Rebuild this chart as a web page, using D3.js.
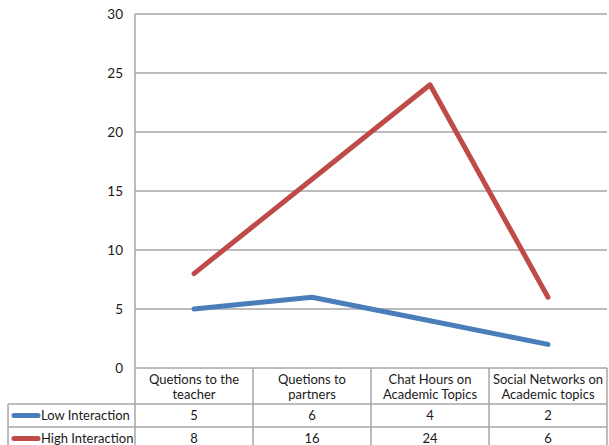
<!DOCTYPE html>
<html>
<head>
<meta charset="utf-8">
<script src="https://cdn.jsdelivr.net/npm/d3@7"></script>
<style>
  html, body { margin: 0; padding: 0; background: #fff; }
  svg { display: block; }
  text { font-family: Lato, "Open Sans", sans-serif; fill: #1a1a1a; }
</style>
</head>
<body>
<svg id="chart" width="609" height="445"></svg>
<script>
// Data
const categories = [
  ["Quetions to the", "teacher"],
  ["Quetions to", "partners"],
  ["Chat Hours on", "Academic Topics"],
  ["Social Networks on", "Academic topics"]
];
const seriesNames = ["Low Interaction", "High Interaction"];
const lowValues = [5, 6, 4, 2];
const highValues = [8, 16, 24, 6];
const yTicks = [0, 5, 10, 15, 20, 25, 30];
const seriesColors = ["#4a7ebb", "#be4b48"];

const svg = d3.select("#chart");
const plot = { left: 135, right: 607, top: 14, bottom: 368 };
const rowH = 23, headH = 36, tableLeft = 8;
const gridColor = "#a6a6a6";

const keys = categories.map((c, i) => i);
const x = d3.scaleBand().domain(keys).range([plot.left, plot.right]).padding(0);
const y = d3.scaleLinear().domain([0, 30]).range([plot.bottom, plot.top]);
const cx = i => x(i) + x.bandwidth() / 2;

// Horizontal gridlines
svg.append("g").selectAll("line").data(yTicks).join("line")
  .attr("x1", plot.left).attr("x2", plot.right)
  .attr("y1", d => y(d)).attr("y2", d => y(d))
  .attr("stroke", gridColor).attr("stroke-width", 1.5);

// Y axis labels
svg.append("g").selectAll("text").data(yTicks).join("text")
  .attr("x", 123).attr("y", d => y(d))
  .attr("dy", "0.35em").attr("text-anchor", "end")
  .style("font-size", "13.5px").text(d => d);

// Vertical axis line
svg.append("line")
  .attr("x1", plot.left).attr("x2", plot.left)
  .attr("y1", plot.top).attr("y2", plot.bottom + headH + rowH * 2)
  .attr("stroke", gridColor).attr("stroke-width", 1.5);

// Data table below the axis
const tableTop = plot.bottom;
const rowTops = [tableTop + headH, tableTop + headH + rowH, tableTop + headH + rowH * 2];
const tg = svg.append("g");
// column separators
tg.selectAll("line.col").data(keys.map(i => x(i) + x.bandwidth())).join("line")
  .attr("class", "col")
  .attr("x1", d => d).attr("x2", d => d)
  .attr("y1", tableTop).attr("y2", rowTops[2])
  .attr("stroke", gridColor).attr("stroke-width", 1.5);
// row separators
tg.selectAll("line.row").data(rowTops.slice(0, 2)).join("line")
  .attr("class", "row")
  .attr("x1", tableLeft).attr("x2", plot.right)
  .attr("y1", d => d).attr("y2", d => d)
  .attr("stroke", gridColor).attr("stroke-width", 1.5);
tg.append("line")
  .attr("x1", tableLeft).attr("x2", tableLeft)
  .attr("y1", rowTops[0]).attr("y2", rowTops[2])
  .attr("stroke", gridColor).attr("stroke-width", 1.5);

// Category headers
keys.forEach(i => {
  const t = tg.append("text").attr("text-anchor", "middle").style("font-size", "13px");
  categories[i].forEach((line, j) => {
    t.append("tspan").attr("x", cx(i)).attr("y", tableTop + 16 + j * 15).text(line);
  });
});

// Value rows with legend keys
const allValues = [lowValues, highValues];
allValues.forEach((vals, r) => {
  const midY = rowTops[r] + rowH / 2;
  tg.append("line")
    .attr("x1", 14).attr("x2", 38)
    .attr("y1", midY).attr("y2", midY)
    .attr("stroke", seriesColors[r]).attr("stroke-width", 5)
    .attr("stroke-linecap", "round");
  tg.append("text").attr("x", 41).attr("y", midY).attr("dy", "0.35em")
    .style("font-size", "13px").text(seriesNames[r]);
  tg.selectAll(null).data(vals).join("text")
    .attr("x", (d, i) => cx(i)).attr("y", midY).attr("dy", "0.35em")
    .attr("text-anchor", "middle").style("font-size", "13px")
    .text(d => d);
});

// Series lines
const line = d3.line().x((d, i) => cx(i)).y(d => y(d));
allValues.forEach((vals, r) => {
  svg.append("path").datum(vals)
    .attr("d", line)
    .attr("fill", "none")
    .attr("stroke", seriesColors[r])
    .attr("stroke-width", 5)
    .attr("stroke-linecap", "round")
    .attr("stroke-linejoin", "round");
});
</script>
</body>
</html>
